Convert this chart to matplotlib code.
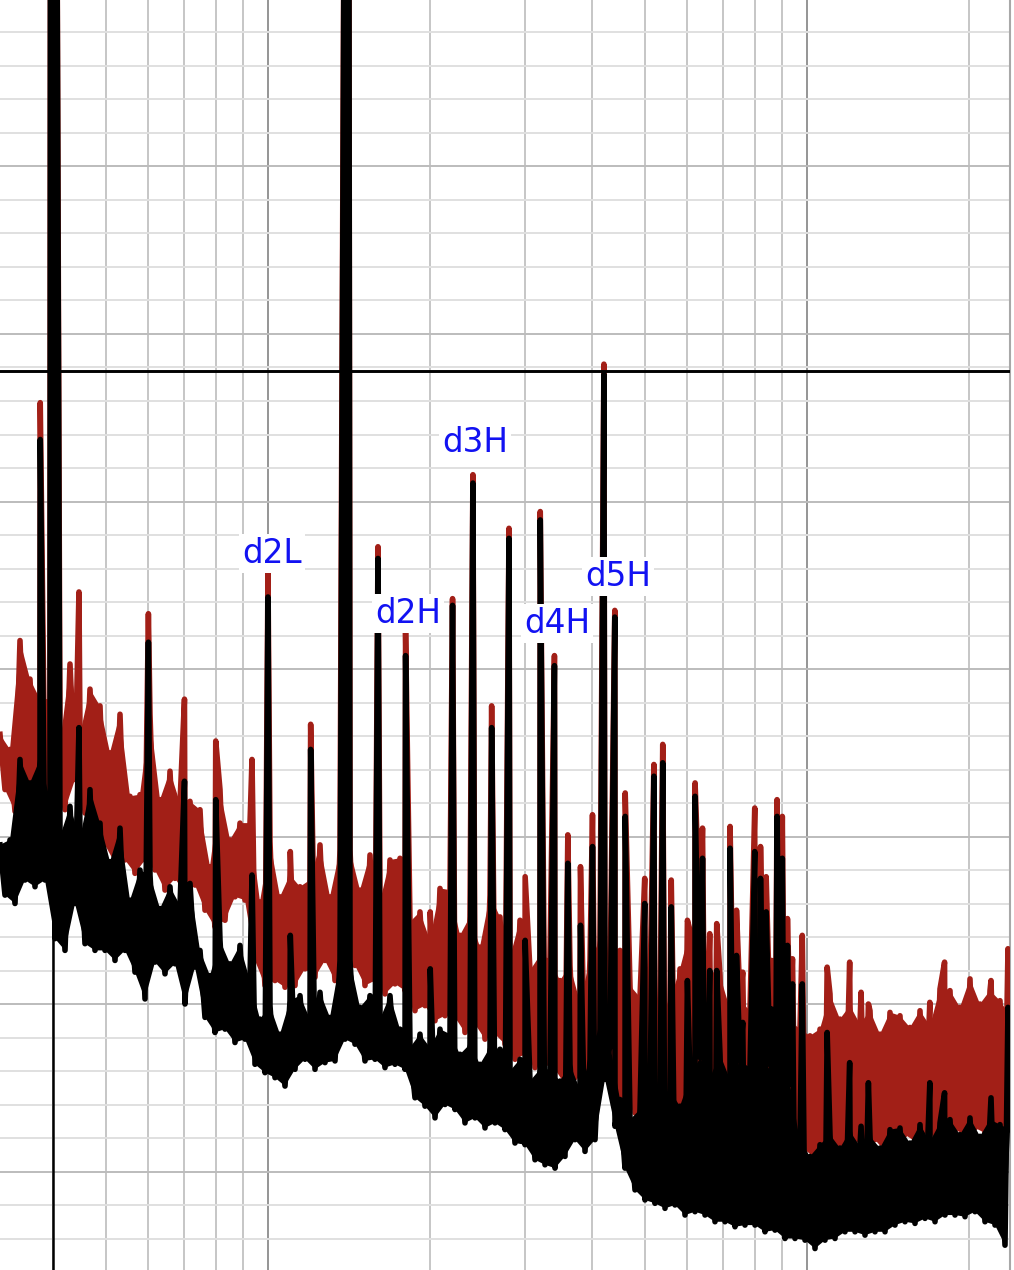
import numpy as np
import matplotlib
matplotlib.use('Agg')
import matplotlib.pyplot as plt
from matplotlib.ticker import MultipleLocator, LogLocator

# noise floor (dB), one value every ~5 px from 318 Hz to 23.8 kHz
# (values alternate between the top and the bottom of the noise band)
red_floor = [
    -73.9, -77.2, -74.8, -78.5, -68.3, -76.6, -70.6, -77.0, -71.8, -77.8,
    -71.8, -77.8, -74.5, -78.4, -69.7, -76.6, -73.9, -78.6, -71.2, -78.4,
    -72.2, -80.5, -75.0, -81.6, -72.7, -81.4, -77.6, -82.2, -77.5, -81.4,
    -72.7, -82.0, -77.8, -83.2, -76.1, -82.5, -78.0, -83.4, -77.9, -82.9,
    -78.4, -84.4, -81.8, -85.4, -77.2, -85.0, -80.2, -83.6, -79.2, -83.8,
    -79.2, -87.4, -83.9, -88.9, -80.3, -88.6, -83.6, -89.0, -82.3, -88.9,
    -83.0, -87.9, -82.6, -88.4, -80.5, -87.4, -83.6, -88.6, -80.8, -87.4,
    -80.8, -87.7, -83.2, -88.9, -81.1, -88.6, -83.9, -89.4, -81.4, -88.8,
    -81.3, -89.2, -85.1, -90.4, -84.5, -90.1, -86.2, -91.0, -83.1, -90.7,
    -83.2, -90.8, -85.9, -91.7, -84.8, -91.2, -86.6, -92.1, -83.5, -91.8,
    -84.8, -92.4, -87.2, -93.3, -85.0, -93.0, -88.0, -93.8, -87.1, -93.6,
    -87.3, -93.9, -88.6, -94.8, -87.7, -94.4, -89.9, -94.5, -87.4, -93.1,
    -86.2, -93.3, -88.8, -95.6, -86.8, -95.7, -88.9, -96.5, -89.6, -96.1,
    -89.2, -96.3, -91.0, -97.6, -89.8, -96.9, -87.9, -97.1, -85.6, -96.3,
    -85.3, -95.7, -88.0, -96.8, -88.3, -96.6, -90.3, -97.4, -89.8, -96.9,
    -90.4, -97.2, -91.8, -97.7, -91.0, -97.5, -92.2, -98.2, -91.0, -98.1,
    -91.5, -98.7, -91.9, -99.2, -91.5, -98.7, -89.4, -98.8, -90.9, -98.5,
    -90.1, -98.1, -91.2, -98.8, -90.4, -98.1, -91.8, -98.8, -90.5, -98.1,
    -90.7, -97.8, -91.4, -98.2, -90.4, -97.6, -91.3, -97.9, -89.1, -97.5,
    -89.2, -97.5, -90.2, -97.8, -88.5, -97.4, -90.0, -97.7, -89.2, -97.3,
    -89.8, -97.5, -90.7]

black_floor = [
    -80.5, -83.5, -80.2, -84.0, -75.4, -82.6, -76.8, -83.0, -75.4, -82.6,
    -77.8, -86.1, -80.0, -86.8, -78.2, -84.0, -80.1, -86.4, -77.2, -86.8,
    -79.2, -86.8, -81.5, -87.4, -79.5, -86.8, -83.8, -88.1, -82.0, -89.7,
    -82.3, -87.5, -84.3, -88.2, -83.0, -87.6, -84.1, -90.0, -82.8, -87.8,
    -86.8, -90.8, -88.3, -91.7, -86.2, -91.5, -87.6, -92.3, -86.5, -92.1,
    -88.6, -93.6, -90.9, -94.1, -90.1, -94.4, -91.8, -94.9, -89.8, -93.9,
    -89.5, -93.3, -90.9, -93.9, -89.3, -93.5, -90.8, -93.4, -87.4, -92.1,
    -87.4, -92.4, -90.2, -93.4, -89.5, -93.3, -90.9, -93.8, -89.5, -93.6,
    -91.5, -93.9, -92.6, -95.6, -91.8, -96.1, -92.6, -96.8, -91.5, -96.0,
    -91.8, -96.3, -93.0, -97.1, -92.4, -96.8, -93.6, -97.4, -92.6, -97.1,
    -92.7, -97.5, -94.0, -98.3, -93.3, -98.4, -94.6, -99.3, -93.9, -99.6,
    -93.9, -99.8, -94.6, -99.1, -93.6, -98.1, -95.1, -98.8, -93.3, -98.1,
    -91.5, -94.5, -92.4, -97.3, -95.7, -99.8, -96.9, -101.1, -96.3, -101.7,
    -95.8, -101.9, -96.8, -102.2, -95.2, -102.0, -96.1, -102.6, -94.4, -102.4,
    -93.2, -102.6, -94.4, -103.0, -93.0, -103.0, -94.5, -103.3, -93.4, -103.2,
    -93.8, -103.2, -94.9, -103.6, -93.6, -103.5, -95.2, -104.0, -94.8, -104.0,
    -98.2, -104.1, -99.1, -104.6, -98.4, -104.1, -97.8, -104.0, -98.6, -103.6,
    -97.6, -103.6, -98.5, -103.8, -97.9, -103.6, -98.6, -103.6, -97.5, -103.2,
    -97.4, -103.0, -98.3, -103.1, -97.2, -102.8, -98.2, -103.0, -97.1, -102.6,
    -96.9, -102.6, -97.8, -102.7, -96.8, -102.4, -97.9, -103.0, -96.9, -103.2,
    -97.2, -104.4, -97.5]

# tones, harmonics and IMD products (Hz) with their levels (dB)
peak_hz = [378, 395, 405, 446, 600, 700, 800, 934, 1000, 1100, 1200, 1388, 1412,
           1600, 1800, 2000, 2200, 2400, 2600, 2800, 3000, 3200, 3400, 3600,
           3800, 4000, 4200, 4400, 4600, 5000, 5200, 5400, 5600, 6000, 6200,
           6400, 6600, 6800, 7200, 7400, 7600, 8000, 8200, 8400, 8600, 8800,
           9000, 9200, 9400, 9800, 10900, 12000, 12600, 13000, 16900, 18000,
           21950, 23600]
red_peak = [-54.1, -15, -15, -65.4, -66.7, -71.8, -74.3, -75.4, -64.3, -80.9, -73.3, -15, -15,
            -62.7, -67.8, -84.5, -65.8, -58.4, -72.2, -61.6, -82.4, -60.6, -69.2, -79.9,
            -81.8, -78.7, -51.8, -66.5, -77.4, -82.5, -75.7, -74.5, -82.6, -85.0, -76.8,
            -79.5, -85.8, -85.2, -79.4, -84.4, -88.1, -78.3, -80.6, -82.4, -87.4, -77.8,
            -78.8, -84.9, -87.3, -85.9, -87.8, -87.5, -89.3, -90.0, -89.9, -87.5,
            -88.6, -86.7]
black_peak = [-56.3, -15, -15, -73.5, -68.4, -76.7, -77.8, -82.3, -65.7, -85.9, -74.8, -15, -15,
              -63.4, -69.2, -87.9, -66.2, -58.9, -73.5, -62.2, -86.2, -61.1, -69.8, -81.6,
              -85.3, -80.6, -52.4, -66.9, -78.8, -84.0, -76.4, -75.6, -84.2, -88.6, -77.6,
              -81.3, -88.0, -88.0, -80.7, -87.1, -91.1, -80.9, -82.5, -84.5, -90.3, -78.8,
              -81.3, -86.5, -88.8, -88.8, -91.7, -93.5, -97.3, -94.7, -94.7, -95.3,
              -95.6, -90.2]

labels = ['d2L', 'd2H', 'd3H', 'd4H', 'd5H']
label_hz = [1017, 1818, 2421, 3438, 4461]
label_db = [-63.1, -66.7, -56.5, -67.3, -64.5]

ref_level = -52.2
marker_hz = 400

floor_hz = np.geomspace(318.3, 23804, len(red_floor))


def merge(floor, peaks):
    f = np.concatenate([floor_hz, peak_hz])
    v = np.concatenate([floor, peaks])
    order = np.argsort(f, kind='stable')
    return f[order], v[order]


def band(floor):
    # closed outline: tops left to right, then bottoms back
    floor = np.asarray(floor)
    xs = np.concatenate([floor_hz[0::2], floor_hz[1::2][::-1]])
    ys = np.concatenate([floor[0::2], floor[1::2][::-1]])
    return xs, ys


fig = plt.figure(figsize=(10.14, 12.70), dpi=100)
ax = fig.add_axes([0, 0, 1010 / 1014, 1])
ax.set_xscale('log')
ax.set_xlim(318.3, 23804)
ax.set_ylim(-105.88, -30.06)

ax.xaxis.set_major_locator(LogLocator(base=10, numticks=20))
ax.xaxis.set_minor_locator(LogLocator(base=10, subs=np.arange(2, 10), numticks=20))
ax.yaxis.set_major_locator(MultipleLocator(10))
ax.yaxis.set_minor_locator(MultipleLocator(2))
ax.grid(which='minor', axis='y', color='#e0e0e0', lw=1.4)
ax.grid(which='major', axis='y', color='#bcbcbc', lw=1.4)
ax.grid(which='minor', axis='x', color='#c6c6c6', lw=1.4)
ax.grid(which='major', axis='x', color='#8c8c8c', lw=1.3)
ax.set_axisbelow(True)
ax.tick_params(which='both', length=0, labelleft=False, labelbottom=False)
for s in ['left', 'top', 'bottom']:
    ax.spines[s].set_visible(False)
ax.spines['right'].set_color('#a8a8a8')
ax.spines['right'].set_linewidth(1.5)

RED = '#a21f17'
fr, vr = merge(red_floor, red_peak)
fb, vb = merge(black_floor, black_peak)
ax.axvline(marker_hz, color='black', lw=1.8, zorder=2.5)

bx, by = band(red_floor)
ax.fill(bx, by, color=RED, lw=0, zorder=3)
ax.plot(fr, vr, color=RED, lw=4, solid_joinstyle='round', zorder=3)
bx, by = band(black_floor)
ax.fill(bx, by, color='black', lw=0, zorder=4)
ax.plot(fb, vb, color='black', lw=4, solid_joinstyle='round', zorder=4)
ax.axhline(ref_level, color='black', lw=2.1, zorder=5)

for t, f, v in zip(labels, label_hz, label_db):
    ax.text(f, v, t, color='#1212f2', fontsize=23.5, ha='center', va='center', zorder=6,
            bbox=dict(facecolor='white', edgecolor='none', pad=2))

fig.savefig('out.png', dpi=100, facecolor='white')
